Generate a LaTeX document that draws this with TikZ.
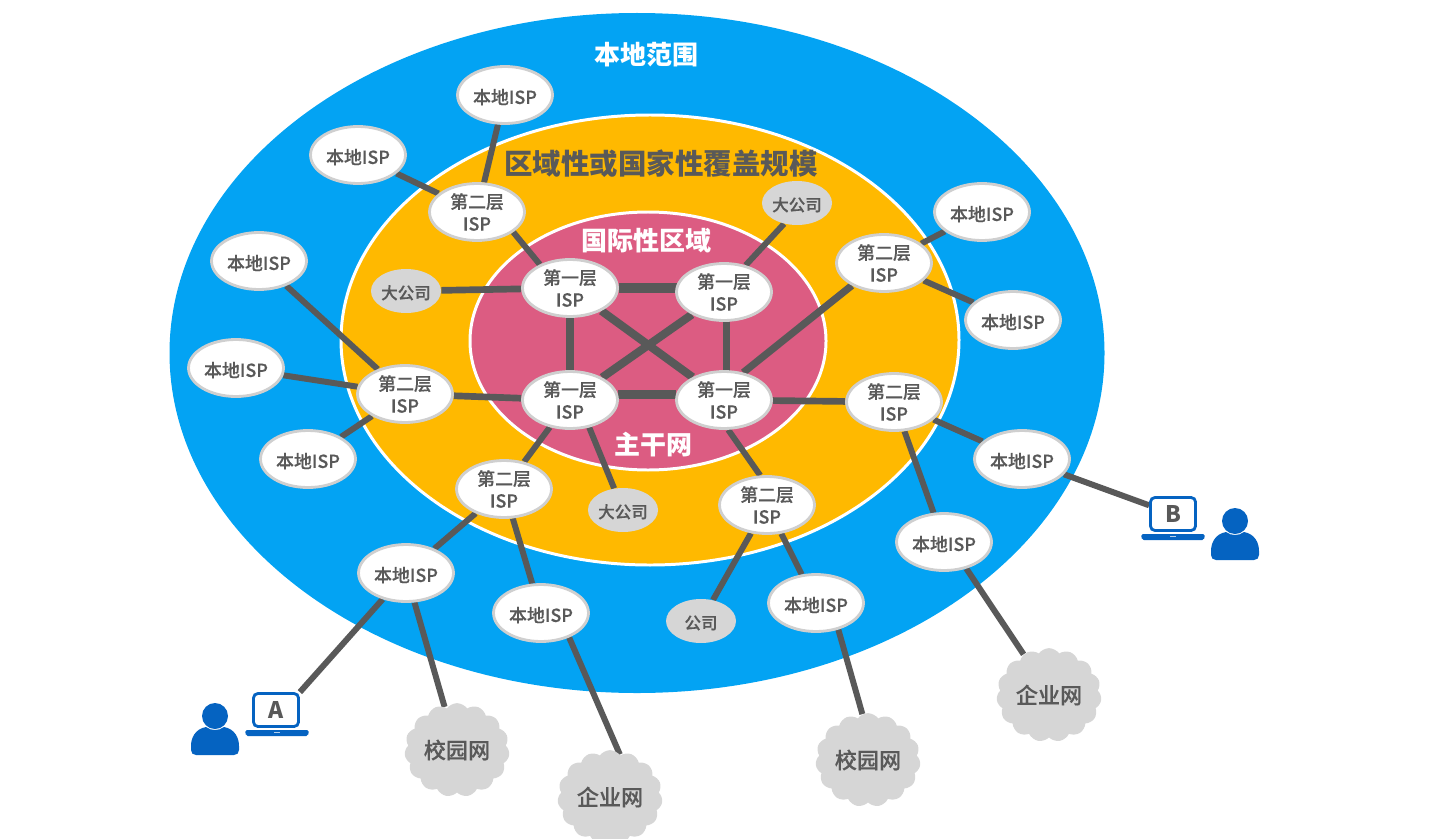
\documentclass[tikz,border=0pt]{standalone}
\usepackage{fontspec}
\setmainfont{Noto Sans CJK SC}
\newfontfamily\mediumcjk[FakeBold=0.35]{Noto Sans CJK SC Medium}
\usetikzlibrary{backgrounds,shapes.geometric,shapes.symbols}
\definecolor{localblue}{HTML}{03A3F3}
\definecolor{regionamber}{HTML}{FFB900}
\definecolor{corepink}{HTML}{DC5C82}
\definecolor{inkgray}{HTML}{595959}
\definecolor{paleedge}{HTML}{CFCFCF}
\definecolor{palefill}{HTML}{D6D6D6}
\definecolor{userblue}{HTML}{0563C1}
\tikzset{
	zone/.style={draw=white, line width=1.7pt},
	zonelabel/.style={font=\fontsize{#1}{#1}\selectfont\bfseries},
	ispnode/.style={ellipse, draw=paleedge, fill=white, line width=1.6pt, inner sep=0pt, minimum width=1.9cm, minimum height=1.14cm, align=center, text=inkgray, font=\fontsize{10.2}{12.6}\selectfont\mediumcjk, execute at begin node={\rule{0pt}{11pt}}},
	bignode/.style={ellipse, fill=palefill, inner sep=0pt, minimum width=1.4cm, minimum height=0.88cm, text=inkgray, font=\fontsize{9.4}{11}\selectfont\mediumcjk, execute at begin node={\rule{0pt}{10pt}}},
	netcloud/.style={cloud, cloud puffs=15, cloud puff arc=110, aspect=1.1, fill=palefill, inner sep=0pt, minimum width=2.1cm, minimum height=1.85cm, text=inkgray, font=\fontsize{12.6}{14}\selectfont\mediumcjk},
	laptop/.style={rectangle, draw=userblue, fill=white, rounded corners=2.5pt, line width=1.6pt, inner sep=0pt, minimum width=0.9cm, minimum height=0.66cm, text=inkgray, font=\fontsize{13}{14}\selectfont\bfseries},
	link/.style={draw=inkgray, line width=3.4pt},
	corelink/.style={draw=inkgray, line width=5.2pt},
	crosslink/.style={draw=inkgray, line width=4.6pt},
	sidelink/.style={draw=inkgray, line width=4.1pt},
}
\def\laptopbase(#1,#2){\fill[userblue, rounded corners=1pt] (#1-32,#2) -- (#1+32,#2) -- (#1+31,#2+6) -- (#1-31,#2+6) -- cycle; \fill[white!70!userblue] (#1-3,#2+2) rectangle (#1+3,#2+3);}
\def\userfigure(#1,#2){
	\fill[userblue] (#1,#2) circle (13);
	\fill[userblue] (#1-9,#2+11) .. controls (#1-20,#2+13) and (#1-24,#2+22) .. (#1-24,#2+30) -- (#1-24,#2+34) .. controls (#1-24,#2+37) and (#1-22,#2+39) .. (#1-19,#2+39) -- (#1+19,#2+39) .. controls (#1+22,#2+39) and (#1+24,#2+37) .. (#1+24,#2+34) -- (#1+24,#2+30) .. controls (#1+24,#2+22) and (#1+20,#2+13) .. (#1+9,#2+11) .. controls (#1+4,#2+15) and (#1-4,#2+15) .. (#1-9,#2+11) -- cycle;
}

\begin{document}
\begin{tikzpicture}[x=0.02cm, y=-0.02cm]
	\useasboundingbox (0, 0) rectangle (1452, 838);
	%%%%% ZONES %%%%%
	\begin{scope}[on background layer]
	\fill[localblue] (637, 353) ellipse (467.5 and 340);
	\draw[zone, fill=regionamber] (650, 340) ellipse (309 and 225);
	\draw[zone, fill=corepink] (648, 341) ellipse (178 and 129);
	\end{scope}
	
	\node[zonelabel=14.8, text=white] (titlelocal) at (646, 55) {本地范围};
	\node[zonelabel=16.2, text=inkgray] (titleregion) at (661, 164) {区域性或国家性覆盖规模};
	\node[zonelabel=14.8, text=white] (titleworld) at (646, 241) {国际性区域};
	\node[zonelabel=14.8, text=white] (titlecore) at (653, 445) {主干网};
	
	%%%%% NODES %%%%%
	\node[ispnode] (one a) at (570, 288) {第一层\\ISP};
	\node[ispnode] (one b) at (724, 292) {第一层\\ISP};
	\node[ispnode] (one c) at (570, 400) {第一层\\ISP};
	\node[ispnode] (one d) at (724, 400) {第一层\\ISP};
	
	\node[ispnode] (two a) at (477, 212) {第二层\\ISP};
	\node[ispnode] (two b) at (884, 263) {第二层\\ISP};
	\node[ispnode] (two c) at (405, 394) {第二层\\ISP};
	\node[ispnode] (two d) at (894, 402) {第二层\\ISP};
	\node[ispnode] (two e) at (504, 489) {第二层\\ISP};
	\node[ispnode] (two f) at (767, 505) {第二层\\ISP};
	
	\node[ispnode] (local a) at (505, 95) {本地ISP};
	\node[ispnode] (local b) at (358, 155) {本地ISP};
	\node[ispnode] (local c) at (259, 261) {本地ISP};
	\node[ispnode] (local d) at (236, 368) {本地ISP};
	\node[ispnode] (local e) at (308, 459) {本地ISP};
	\node[ispnode] (local f) at (406, 573) {本地ISP};
	\node[ispnode] (local g) at (541, 613) {本地ISP};
	\node[ispnode] (local h) at (816, 603) {本地ISP};
	\node[ispnode] (local i) at (944, 542) {本地ISP};
	\node[ispnode] (local j) at (1022, 459) {本地ISP};
	\node[ispnode] (local k) at (1013, 320) {本地ISP};
	\node[ispnode] (local l) at (982, 212) {本地ISP};
	
	\node[bignode] (firm a) at (797, 203) {大公司};
	\node[bignode] (firm b) at (406, 291) {大公司};
	\node[bignode] (firm c) at (623, 510) {大公司};
	\node[bignode] (firm d) at (701, 621) {公司};
	
	\node[netcloud] (campus a) at (457, 750) {校园网};
	\node[netcloud] (campus b) at (868, 760) {校园网};
	\node[netcloud] (corp a) at (610, 797) {企业网};
	\node[netcloud] (corp b) at (1049, 695) {企业网};
	
	\node[laptop] (host a) at (276, 710) {A};
	\node[laptop] (host b) at (1173, 514) {B};
	\laptopbase(277, 730);
	\laptopbase(1173, 534);
	\userfigure(215, 716);
	\userfigure(1235, 521);
	
	%%%%% LINKS %%%%%
	\begin{scope}[on background layer]
	\draw[corelink] (one a) -- (one a -| one b);
	\draw[corelink] (one c.7) -- (one d.173);
	\draw[crosslink] (one a) -- (one d);
	\draw[crosslink] (one b) -- (one c);
	\draw[sidelink] (one a) -- (one c);
	\draw[sidelink] (one b.-85) -- (one b.-85 |- one d);
	
	\draw[link] (one a.142) -- (two a.-29);
	\draw[link, line width=3.8pt] (one a) -- (firm b);
	\draw[link] (one b.51) -- (firm a.-122);
	\draw[link, line width=3.8pt] (one c) -- (two c);
	\draw[link] (one c) -- (two e);
	\draw[link] (one c.-55) -- (firm c);
	\draw[sidelink] (one d.55) -- (two b.-145);
	\draw[link, line width=3.8pt] (one d) -- (two d);
	\draw[link] (one d.-82) -- (two f.103);
	
	\draw[link] (two a) -- (local a);
	\draw[link] (two a) -- (local b);
	\draw[link] (two b) -- (local k);
	\draw[link] (two b) -- (local l);
	\draw[link] (two c) -- (local c);
	\draw[link] (two c) -- (local d);
	\draw[link] (two c) -- (local e);
	\draw[link] (two d) -- (local i);
	\draw[link] (two d) -- (local j);
	\draw[link] (two e) -- (local f);
	\draw[link] (two e) -- (local g);
	\draw[link] (two f) -- (local h);
	\draw[link] (two f) -- (firm d);
	
	\draw[link] (local f) -- (host a.north east);
	\draw[link] (local f) -- (campus a);
	\draw[link] (local g.-41) -- (corp a.77);
	\draw[link] (local h.-50) -- (campus b.97);
	\draw[link] (local i.-50) -- (corp b.122);
	\draw[link] (local j) -- (host b.160);
	\end{scope}
\end{tikzpicture}
\end{document}
